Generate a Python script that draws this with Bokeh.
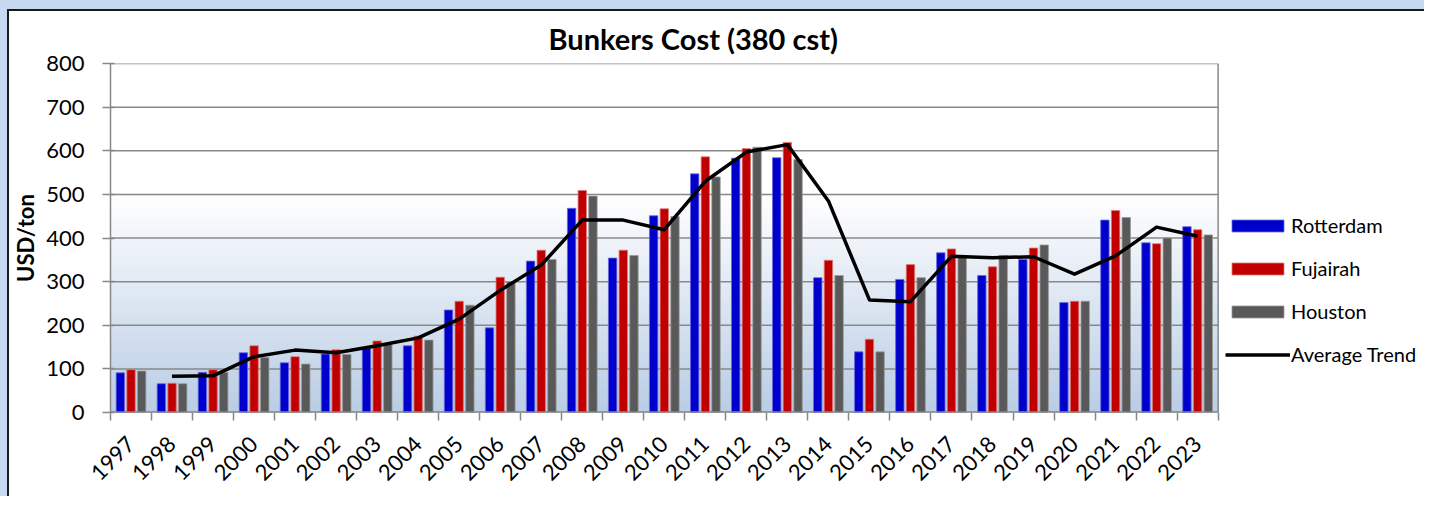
import numpy as np
from bokeh.plotting import figure
from bokeh.models import FixedTicker, Legend, LegendItem, Range1d
from bokeh.embed import file_html
from bokeh.resources import INLINE

years = [str(y) for y in range(1997, 2024)]
rotterdam = [91, 66, 92, 137, 114, 134, 147, 153, 235, 194, 347, 468, 354, 451, 547,
             583, 584, 309, 139, 305, 366, 314, 351, 252, 441, 389, 426]
fujairah = [98, 67, 98, 153, 128, 144, 164, 175, 255, 310, 372, 509, 372, 467, 586,
            605, 619, 349, 168, 339, 375, 334, 377, 255, 463, 387, 419]
houston = [95, 66, 92, 126, 111, 133, 156, 166, 246, 300, 351, 496, 360, 449, 540,
           608, 580, 314, 139, 309, 359, 360, 384, 255, 447, 400, 407]
trend = [None, 83, 84, 128, 143, 137, 153, 171, 214, 280, 338, 441, 441, 419, 530,
         597, 614, 485, 258, 254, 358, 355, 357, 317, 359, 425, 404]
y_ticks = [0, 100, 200, 300, 400, 500, 600, 700, 800]

FONT = "Lato"
GRID = "#888888"
BAND = "#C6D9F1"
n = len(years)
idx = np.arange(n)

W, H = 1417, 487
ML, MT = 97, 48
MB = H - MT - 353
PLOT_W = 1111                      # pixel width of the chart's plot area
frame_w = W - ML
x_lo = -0.5
x_hi = x_lo + n * frame_w / PLOT_W  # frame extends right to hold the legend
x_end = n - 0.5                     # right edge of the plot area

p = figure(width=W, height=H, output_backend="svg", toolbar_location=None,
           x_range=Range1d(x_lo, x_hi), y_range=Range1d(0, 800),
           min_border_left=ML, min_border_right=0, min_border_top=MT,
           min_border_bottom=MB, background_fill_color="white",
           border_fill_color="white", outline_line_color=None)
p.styles = {"margin-left": "7px", "margin-top": "9px",
            "border-left": "2px solid #1a1a1a", "border-top": "2px solid #1a1a1a",
            "box-shadow": f"0 -9px 0 0 {BAND}, -9px -9px 0 0 {BAND}, -9px 0 0 0 {BAND}"}

p.title.text = "Bunkers Cost (380 cst)"
p.title.align = "left"
p.title.offset = 438
p.title.standoff = 15
p.title.text_font = FONT
p.title.text_font_style = "bold"
p.title.text_font_size = "29px"
p.title.text_color = "black"

# gradient background of the plot area (white above 500 -> light blue at 0)
stops = np.linspace(0, 500, 51)
top_rgb = np.array([255, 255, 255])
bot_rgb = np.array([184, 204, 228])
cols = []
for s in stops[:-1]:
    t = (s + 5) / 500.0
    c = bot_rgb + (top_rgb - bot_rgb) * t
    cols.append("#%02x%02x%02x" % tuple(int(round(v)) for v in c))
p.quad(left=x_lo, right=x_end, bottom=stops[:-1], top=stops[1:], fill_color=cols,
       line_color=cols, line_width=1, level="image")

# grid lines and plot-area border limited to the plot area
p.ygrid.visible = False
p.xgrid.visible = False
p.segment(x0=[x_lo] * len(y_ticks), x1=[x_end] * len(y_ticks), y0=y_ticks, y1=y_ticks,
          line_color=GRID, line_width=1.5, level="underlay")
p.segment(x0=[x_end], x1=[x_end], y0=[0], y1=[800], line_color=GRID, line_width=1.5,
          level="underlay")

bw = 0.205
r1 = p.vbar(x=idx - 0.26, top=rotterdam, width=bw, fill_color="#0000CC",
            line_color="#6a6ae0", line_width=0.8)
r2 = p.vbar(x=idx, top=fujairah, width=bw, fill_color="#C00000",
            line_color="#e07a7a", line_width=0.8)
r3 = p.vbar(x=idx + 0.26, top=houston, width=bw, fill_color="#595959",
            line_color="#9a9a9a", line_width=0.8)
tx = [i for i, v in zip(idx, trend) if v is not None]
ty = [v for v in trend if v is not None]
r4 = p.line(x=tx, y=ty, line_color="black", line_width=3.5, line_join="round")
# x axis baseline
p.segment(x0=[x_lo], x1=[x_end], y0=[0], y1=[0], line_color=GRID, line_width=2.5)

# y axis
p.yaxis.ticker = FixedTicker(ticks=y_ticks)
p.yaxis.axis_line_color = GRID
p.yaxis.axis_line_width = 1.5
p.yaxis.major_tick_line_color = GRID
p.yaxis.major_tick_line_width = 1.5
p.yaxis.major_tick_in = 4
p.yaxis.major_tick_out = 8
p.yaxis.minor_tick_line_color = None
p.yaxis.major_label_standoff = 18
p.yaxis.major_label_text_font = FONT
p.yaxis.major_label_text_font_size = "22px"
p.yaxis.major_label_text_color = "black"
p.yaxis.axis_label = "USD/ton"
p.yaxis.axis_label_standoff = 4
p.yaxis.axis_label_text_font = FONT
p.yaxis.axis_label_text_font_style = "bold"
p.yaxis.axis_label_text_font_size = "22px"
p.yaxis.axis_label_text_color = "black"

# x axis: tick marks between categories, labels under category centres
p.xaxis.ticker = FixedTicker(ticks=list(idx), minor_ticks=list(np.arange(n + 1) - 0.5))
p.xaxis.major_label_overrides = {int(i): y for i, y in zip(idx, years)}
p.xaxis.axis_line_color = None
p.xaxis.major_tick_in = 0
p.xaxis.major_tick_out = 0
p.xaxis.minor_tick_in = 0
p.xaxis.minor_tick_out = 8
p.xaxis.minor_tick_line_color = GRID
p.xaxis.minor_tick_line_width = 1.5
p.xaxis.major_label_orientation = np.pi / 4
p.xaxis.major_label_standoff = 20
p.xaxis.major_label_text_font = FONT
p.xaxis.major_label_text_font_size = "22px"
p.xaxis.major_label_text_color = "black"

legend = Legend(items=[LegendItem(label="Rotterdam", renderers=[r1]),
                       LegendItem(label="Fujairah", renderers=[r2]),
                       LegendItem(label="Houston", renderers=[r3]),
                       LegendItem(label="Average Trend", renderers=[r4])],
                location=(1115, 46), orientation="vertical", padding=0, margin=0,
                border_line_alpha=0, background_fill_alpha=0,
                glyph_width=65, glyph_height=15, label_height=21, spacing=19,
                label_standoff=1, label_text_font=FONT, label_text_font_size="20px",
                label_text_color="black")
p.add_layout(legend, "center")

open("out.html", "w").write(file_html(p, INLINE))
